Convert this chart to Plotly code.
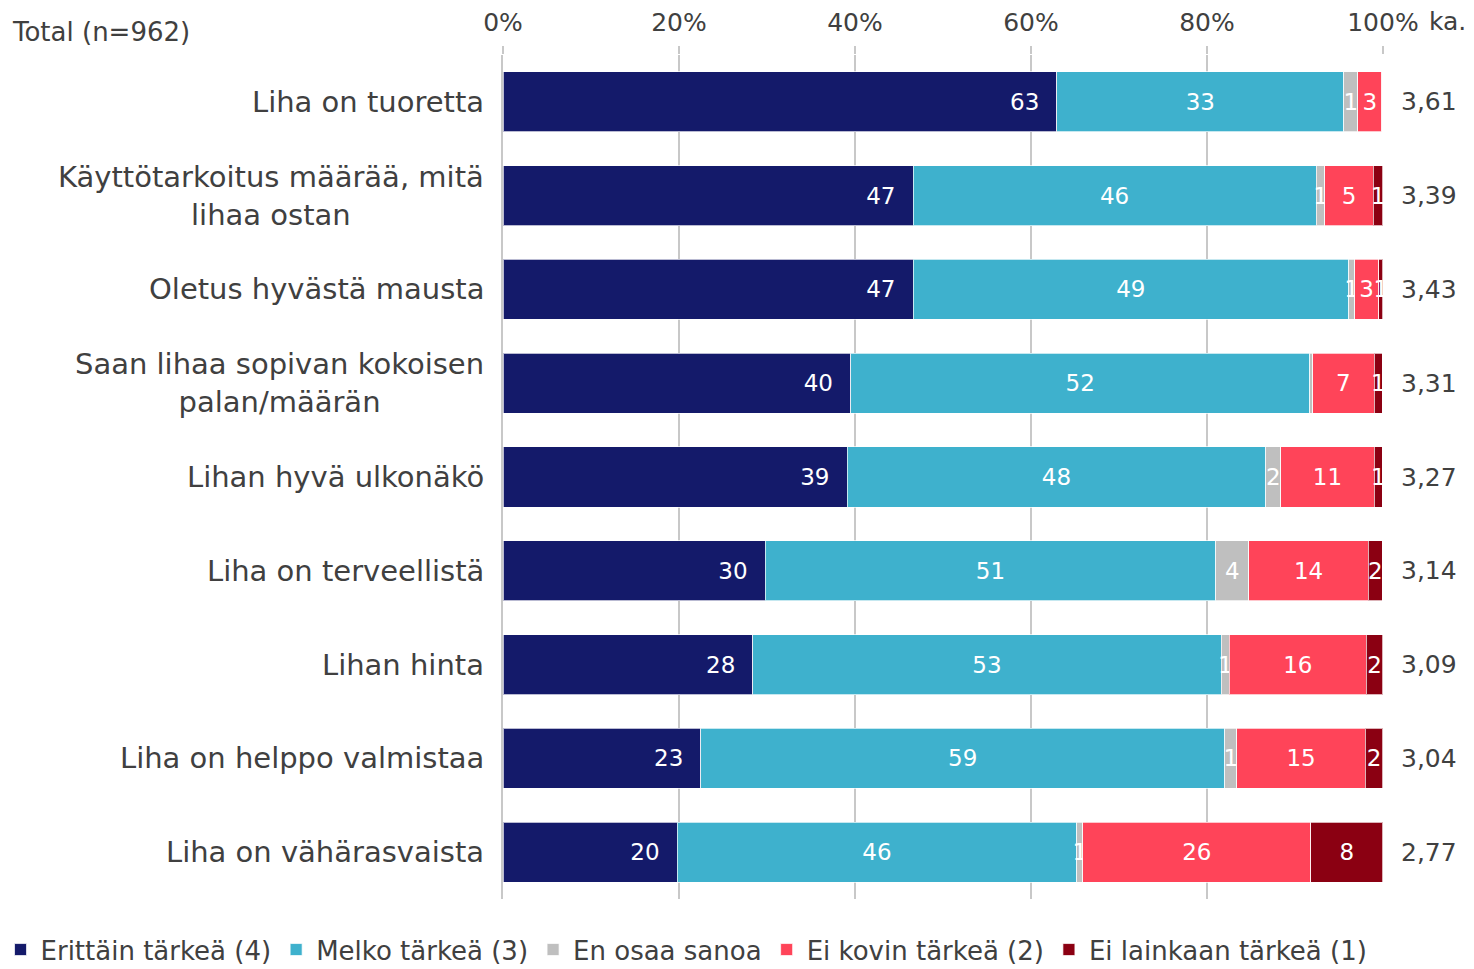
import plotly.graph_objects as go

categories = [
    "Liha on tuoretta",
    "Käyttötarkoitus määrää, mitä<br>lihaa ostan",
    "Oletus hyvästä mausta",
    "Saan lihaa sopivan kokoisen<br>palan/määrän",
    "Lihan hyvä ulkonäkö",
    "Liha on terveellistä",
    "Lihan hinta",
    "Liha on helppo valmistaa",
    "Liha on vähärasvaista",
]

series_names = [
    "Erittäin tärkeä (4)",
    "Melko tärkeä (3)",
    "En osaa sanoa",
    "Ei kovin tärkeä (2)",
    "Ei lainkaan tärkeä (1)",
]

erittain = [62.95, 46.6, 46.6, 39.5, 39.1, 29.8, 28.4, 22.5, 19.8]
melko = [32.6, 45.8, 49.5, 52.2, 47.6, 51.2, 53.2, 59.5, 45.4]
eos = [1.6, 1.0, 0.7, 0.3, 1.7, 3.75, 0.95, 1.4, 0.7]
ei_kovin = [2.7, 5.5, 2.7, 7.0, 10.6, 13.6, 15.55, 14.6, 25.9]
ei_lainkaan = [0.0, 1.1, 0.5, 0.95, 0.95, 1.6, 1.9, 2.0, 8.2]

erittain_lbl = [63, 47, 47, 40, 39, 30, 28, 23, 20]
melko_lbl = [33, 46, 49, 52, 48, 51, 53, 59, 46]
eos_lbl = [1, 1, 1, None, 2, 4, 1, 1, 1]
ei_kovin_lbl = [3, 5, 3, 7, 11, 14, 16, 15, 26]
ei_lainkaan_lbl = [None, 1, 1, 1, 1, 2, 2, 2, 8]

averages = [3.61, 3.39, 3.43, 3.31, 3.27, 3.14, 3.09, 3.04, 2.77]

x_ticks = [0, 20, 40, 60, 80, 100]
x_tick_labels = ["0%", "20%", "40%", "60%", "80%", "100%"]

colors = ["#141A6A", "#3EB1CD", "#BFBFBF", "#FF4459", "#8B0012"]

FONT = "DejaVu Sans"
TXT = "#404040"

values = [erittain, melko, eos, ei_kovin, ei_lainkaan]
labels = [erittain_lbl, melko_lbl, eos_lbl, ei_kovin_lbl, ei_lainkaan_lbl]

fig = go.Figure()
for i, (name, vals, lbls, col) in enumerate(zip(series_names, values, labels, colors)):
    if i == 0:
        txt = [("" if l is None else f"{l}\u00a0\u00a0") for l in lbls]
        anchor = "end"
    else:
        txt = [("" if l is None else str(l)) for l in lbls]
        anchor = "middle"
    fig.add_trace(go.Bar(
        name=name,
        y=categories,
        x=vals,
        orientation="h",
        marker=dict(color=col, line=dict(color="rgba(255,255,255,0.7)", width=1)),
        text=txt,
        textposition="inside",
        insidetextanchor=anchor,
        textangle=0,
        textfont=dict(family=FONT, size=23, color="white"),
        cliponaxis=False,
        hoverinfo="skip",
    ))

# category labels (centered multi-line), anchored to the category axis
for c in categories:
    fig.add_annotation(
        x=0, xref="paper", xanchor="right", xshift=-17,
        y=c, yref="y", yanchor="middle",
        text=c, showarrow=False, align="center",
        font=dict(family=FONT, size=29, color=TXT),
    )

# averages column
for c, a in zip(categories, averages):
    fig.add_annotation(
        x=1, xref="paper", xanchor="left", xshift=16,
        y=c, yref="y", yanchor="middle",
        text=f"{a:.2f}".replace(".", ","), showarrow=False,
        font=dict(family=FONT, size=25, color=TXT),
    )

fig.add_annotation(
    x=1, xref="paper", xanchor="left", xshift=44,
    y=1, yref="paper", yanchor="middle", yshift=34,
    text="ka.", showarrow=False,
    font=dict(family=FONT, size=25, color=TXT),
)
fig.add_annotation(
    x=0, xref="paper", xanchor="left", xshift=-493,
    y=1, yref="paper", yanchor="middle", yshift=23,
    text="Total (n=962)", showarrow=False,
    font=dict(family=FONT, size=26, color=TXT),
)

fig.update_layout(
    barmode="stack",
    bargap=0.36,
    width=1466,
    height=961,
    margin=dict(l=495, r=91, t=47, b=70, autoexpand=False),
    paper_bgcolor="white",
    plot_bgcolor="white",
    font=dict(family=FONT, color=TXT),
    uniformtext=dict(minsize=23, mode="show"),
    showlegend=True,
    legend=dict(
        orientation="h",
        x=-0.571, xanchor="left",
        y=-0.060, yanchor="middle",
        font=dict(family=FONT, size=26, color=TXT),
        traceorder="normal",
        itemwidth=30,
        tracegroupgap=0,
    ),
    xaxis=dict(
        side="top",
        range=[0, 100.01],
        tickvals=x_ticks,
        ticktext=x_tick_labels,
        tickfont=dict(family=FONT, size=25, color=TXT),
        showgrid=True,
        gridcolor="#C8C8C8",
        gridwidth=1.5,
        ticks="outside",
        ticklen=8,
        tickcolor="#C8C8C8",
        tickwidth=1.5,
        ticklabelstandoff=5,
        zeroline=False,
        showline=False,
        fixedrange=True,
    ),
    yaxis=dict(
        autorange="reversed",
        showticklabels=False,
        showgrid=False,
        showline=True,
        linecolor="#C8C8C8",
        linewidth=1.5,
        zeroline=False,
        fixedrange=True,
    ),
)

fig.write_html("out.html")
